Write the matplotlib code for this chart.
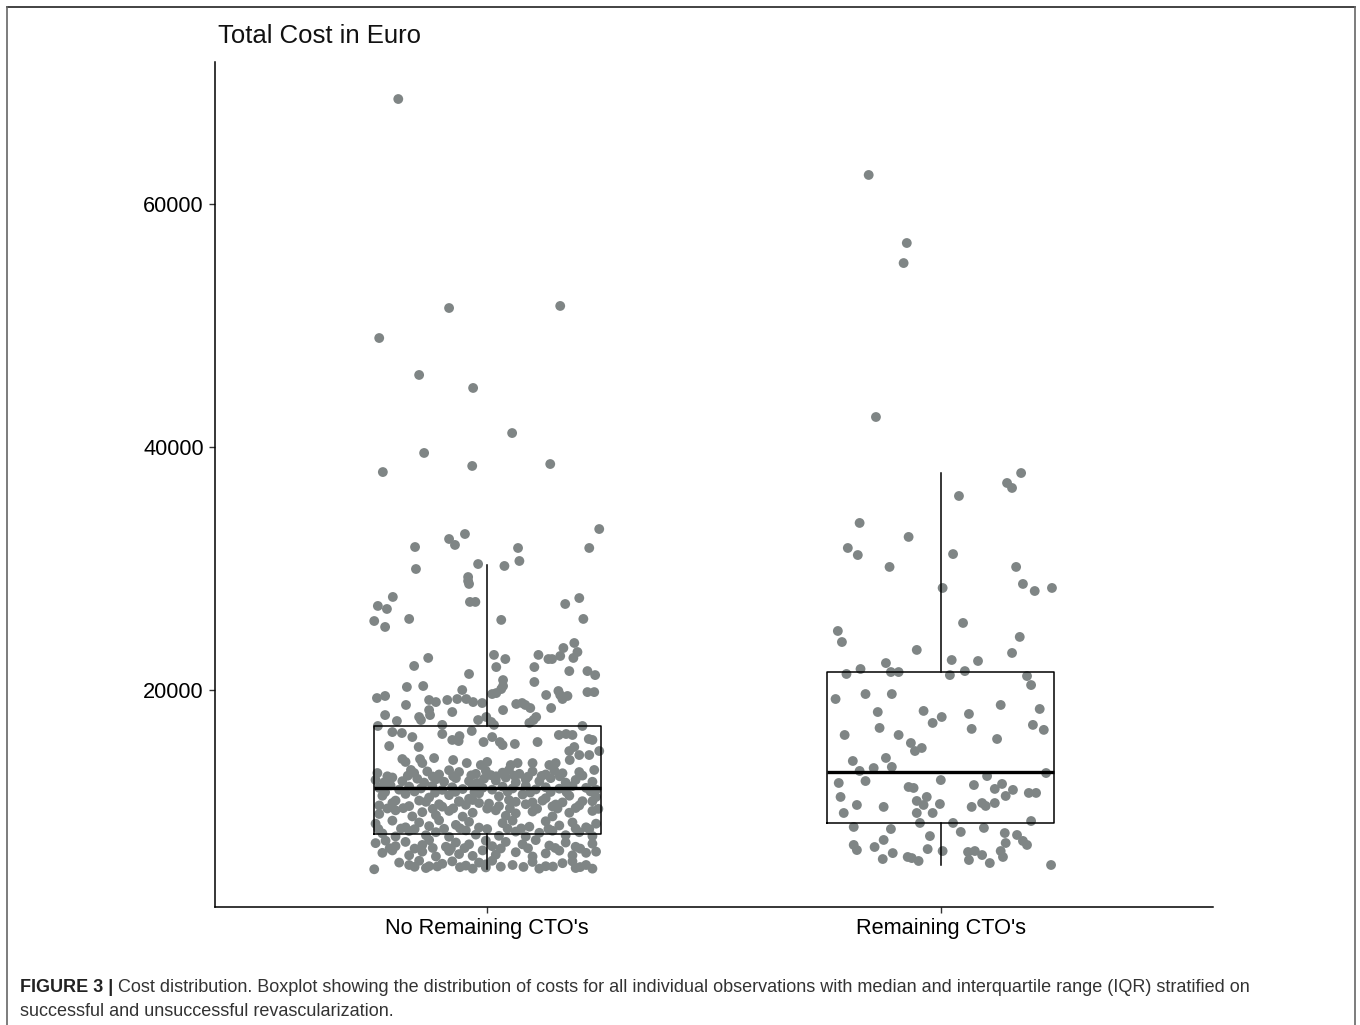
import matplotlib
matplotlib.use("Agg")
import matplotlib.pyplot as plt
import numpy as np

# ---------------- data ----------------
categories = ["No Remaining CTO's", "Remaining CTO's"]
y_ticks = [20000, 40000, 60000]
y_tick_labels = ["20000", "40000", "60000"]

# box statistics
box_q1 = [8150, 9060]
box_median = [11900, 13250]
box_q3 = [17040, 21480]
whisker_lo = [5250, 5600]
whisker_hi = [30250, 37860]

# group 1: No Remaining CTO's (cost in Euro, horizontal jitter)
no_cto_cost = [
    68640, 51440, 51610, 48970, 45930, 44860, 41150, 39510, 37940, 38440, 38600,
    33250, 32840, 32430, 31940, 31770, 31690, 31690,
    30620, 30370, 30210, 29960, 29300, 28970, 28730, 27660, 26920, 26670, 27250, 27250,
    27080, 27570, 25680, 25190, 25850, 25770, 25850, 23870, 23460, 23130, 22640, 22890,
    22550, 22890, 22550, 22550, 22800, 22640,
    21980, 21890, 21890, 21560, 21560, 21230, 21320, 20820, 20660, 20250, 20330, 20330,
    20080, 19750, 19670, 20000, 19920, 19830, 19830, 19340, 19510, 19590, 19590, 19510,
    19260, 19180, 19010, 19180, 19260, 19260, 19010, 18930, 18770, 18850, 18930, 18770,
    18520, 18350, 18190, 18350, 18520, 17940, 17780, 17940, 17780, 17530, 17290, 17780,
    17370, 17130, 17450, 17530, 17530, 17040, 17130, 17040,
    16540, 16460, 16130, 16380, 15890, 15800, 16210, 16630, 15720, 16130, 15720, 15470,
    15560, 15720, 16300, 16380, 16300, 15970, 15890, 15390, 15310, 14980, 15310, 14980,
    14650, 14650, 14320, 14080, 14320, 13990, 14400, 14240, 13990, 13830, 14080, 13830,
    13990, 13990, 13830, 13990, 14240,
    13170, 13420, 13170, 13300, 13050, 13400, 13250, 13100, 13350, 13000, 13200, 13420,
    13100, 13300, 13050, 13380, 13150, 13250, 13420,
    12900, 12950, 12880, 12920, 12980, 12900, 12950, 12870, 12930, 12900, 12960,
    12600, 12400, 12800, 12500, 12700, 12380, 12650, 12450, 12750, 12500, 12350, 12700,
    12550, 12800, 12400, 12650, 12500, 12750, 12380, 12600, 12450,
    11950, 12150, 11800, 12050, 11900, 12100, 11780, 12000, 11850, 12150, 11950, 11800,
    12050, 11900, 12120, 11820, 12000, 11880, 12100, 11950, 11800,
    11600, 11650, 11550, 11620, 11580, 11640, 11560, 11610, 11590, 11650,
    11300, 10700, 11450, 10900, 11150, 10600, 11350, 10800, 11050, 11500, 10650, 11250,
    10950, 11400, 10750, 11100, 10580, 11300, 10850, 11200,
    10500, 10900, 10450, 10800, 10400, 10850, 10550, 10950, 10700, 10450, 10800, 10600,
    10900, 10420, 10750, 10500, 10850,
    10250, 10280, 10220, 10260, 10240, 10270, 10230, 10250, 10290, 10220,
    9800, 10100, 9600, 9950, 9700, 10050, 9580, 9900, 10100, 9650, 9850, 10000, 9600,
    9900, 10050,
    9000, 9250, 8700, 9100, 8800, 9280, 8900, 9150, 8680, 9050, 9250, 8750, 9200, 8850,
    9100, 8700, 9000,
    8570, 8600, 8550, 8580, 8620, 8560, 8590, 8610, 8570, 8600, 8550,
    8200, 7950, 8400, 8050, 8300, 7920, 8450, 8100, 8000, 8350, 7950, 8250, 8420, 8050,
    8300, 7980,
    7400, 7600, 7150, 7500, 7250, 7650, 7100, 7450, 7300, 7600, 7150, 7500, 7300, 7650,
    7200, 7450, 7100, 7350,
    6980, 6950, 7000, 6970, 6990, 6960, 6980, 7000, 6950,
    6600, 6800, 6400, 6700, 6300, 6750, 6500, 6350, 6800, 6450, 6650, 6300, 6550, 6780,
    6400, 6600, 6700,
    5800, 5600, 5950, 5500, 5700, 5900, 5550, 5800, 5650, 5950, 5600, 5850, 5500, 5750,
    5900, 5600,
    5450, 5480, 5420, 5460, 5440, 5470, 5430,
    5250, 5350, 5300, 5400, 5300, 5350, 5300,
]
no_cto_jitter = [
    -0.196, -0.084, 0.161, -0.238, -0.150, -0.031, 0.055, -0.139, -0.230, -0.033, 0.139,
    0.247, -0.049, -0.084, -0.071, -0.159, 0.068, 0.225,
    0.071, -0.020, 0.038, -0.157, -0.042, -0.042, -0.040, -0.208, -0.241, -0.221, -0.038, -0.026,
    0.172, 0.203, -0.249, -0.225, -0.172, 0.031, 0.212, 0.192, 0.168, 0.199, -0.130, 0.015,
    0.040, 0.113, 0.135, 0.143, 0.161, 0.190,
    -0.161, 0.020, 0.104, 0.181, 0.221, 0.238, -0.040, 0.035, 0.104, -0.177, -0.141, 0.035,
    0.031, 0.020, 0.011, -0.055, 0.157, 0.221, 0.236, -0.243, -0.225, 0.130, 0.161, 0.177,
    0.166, -0.128, -0.113, -0.088, -0.066, -0.046, -0.031, -0.011, -0.179, 0.064, 0.077, 0.084,
    0.141, -0.128, -0.077, 0.035, 0.095, -0.225, -0.150, -0.126, 0.108, 0.102, 0.093, -0.002,
    0.009, 0.015, -0.199, -0.146, -0.020, -0.241, -0.099, 0.210,
    -0.209, -0.188, -0.165, -0.099, -0.077, -0.063, -0.061, -0.034, -0.008, 0.011, 0.028, 0.034,
    0.061, 0.111, 0.158, 0.174, 0.188, 0.224, 0.232, -0.216, -0.151, 0.181, 0.192, 0.247,
    0.203, 0.225, -0.187, -0.180, -0.148, -0.143, -0.117, -0.075, -0.045, -0.014, 0.000, 0.052,
    0.067, 0.100, 0.137, 0.151, 0.182,
    -0.242, -0.168, -0.161, -0.132, -0.106, -0.084, -0.062, -0.025, -0.003, 0.008, 0.034, 0.048,
    0.071, 0.100, 0.129, 0.148, 0.166, 0.203, 0.236,
    -0.220, -0.175, -0.120, -0.075, -0.035, 0.020, 0.060, 0.090, 0.120, 0.160, 0.210,
    -0.246, -0.227, -0.209, -0.187, -0.154, -0.139, -0.113, -0.095, -0.069, -0.040, -0.022, -0.007,
    0.019, 0.041, 0.063, 0.085, 0.115, 0.140, 0.173, 0.195, 0.232,
    -0.238, -0.213, -0.194, -0.172, -0.146, -0.121, -0.099, -0.077, -0.054, -0.032, -0.010, 0.011,
    0.034, 0.056, 0.085, 0.107, 0.129, 0.159, 0.188, 0.218, 0.240,
    -0.225, -0.160, -0.115, -0.070, -0.028, 0.045, 0.095, 0.140, 0.175, 0.228,
    -0.231, -0.209, -0.180, -0.150, -0.128, -0.106, -0.084, -0.062, -0.040, -0.018, 0.004, 0.026,
    0.048, 0.078, 0.100, 0.129, 0.151, 0.181, 0.210, 0.240,
    -0.238, -0.202, -0.172, -0.135, -0.099, -0.062, -0.047, -0.032, -0.018, 0.026, 0.063, 0.085,
    0.122, 0.144, 0.166, 0.203, 0.232,
    -0.220, -0.185, -0.120, -0.075, 0.000, 0.050, 0.110, 0.155, 0.195, 0.245,
    -0.238, -0.202, -0.165, -0.143, -0.113, -0.084, -0.054, -0.032, 0.019, 0.041, 0.063, 0.100, 0.144,
    0.181, 0.232,
    -0.246, -0.209, -0.180, -0.150, -0.128, -0.106, -0.069, -0.040, -0.018, 0.034, 0.056, 0.093, 0.129, 0.159,
    0.188, 0.218, 0.240,
    -0.240, -0.190, -0.160, -0.095, -0.060, 0.000, 0.045, 0.075, 0.135, 0.195, 0.225,
    -0.231, -0.202, -0.172, -0.135, -0.113, -0.084, -0.047, -0.025, 0.026, 0.063, 0.085, 0.115, 0.144, 0.173,
    0.203, 0.232,
    -0.246, -0.224, -0.202, -0.180, -0.143, -0.128, -0.091, -0.069, -0.040, -0.003, 0.011, 0.041, 0.078, 0.107,
    0.137, 0.173, 0.195, 0.232,
    -0.215, -0.160, -0.120, -0.080, -0.050, 0.030, 0.090, 0.150, 0.205,
    -0.231, -0.209, -0.172, -0.143, -0.113, -0.084, -0.062, -0.032, -0.010, 0.019, 0.063, 0.100, 0.129, 0.159,
    0.188, 0.218, 0.240,
    -0.194, -0.172, -0.150, -0.128, -0.099, -0.077, -0.047, -0.018, -0.003, 0.011, 0.056, 0.100, 0.129, 0.166,
    0.188, 0.218,
    -0.160, -0.110, -0.060, 0.030, 0.080, 0.145, 0.205,
    -0.249, -0.135, -0.032, -0.003, 0.115, 0.195, 0.232,
]

# group 2: Remaining CTO's
cto_cost = [
    62390, 56790, 55140, 42470, 37860, 37040, 36630, 35970, 33750, 32600, 31690, 31110,
    31190, 30130, 30130, 28730, 28150, 28400, 28400, 25520, 24860, 23950, 24370, 23300,
    23050, 22470, 22390, 22220, 21730, 21480, 21480, 21560, 21320, 21230, 21150,
    20410, 19260, 19670, 19670, 18770, 18440, 18190, 18280, 18030, 17780, 17290, 16880,
    16800, 17130, 16720, 16300, 16300, 15970, 15640, 15230, 14980, 14410, 14160, 13670,
    13580, 13340, 13170, 12920, 12350, 12510, 12590, 12020, 11940, 12180, 12270, 11860,
    11780, 11530, 11530, 11200, 11280, 11200, 10870, 10540, 10380, 10540, 10620, 10700,
    10460, 10700, 10380, 9880, 9880, 9880, 9220, 9060, 9060, 8730, 8560, 8650, 8320,
    8230, 7980, 8070, 7660, 7410, 7580, 7250, 7250, 7080, 6830, 6910, 6580, 6750, 6670,
    6750, 6420, 6750, 6260, 6260, 6170, 5930, 6090, 6010, 5760, 5600,
]
cto_jitter = [
    -0.159, -0.075, -0.082, -0.143, 0.177, 0.146, 0.157, 0.040, -0.179, -0.071, -0.205, -0.183,
    0.027, -0.113, 0.166, 0.181, 0.207, 0.245, 0.004, 0.049, -0.227, -0.218, 0.174, -0.053,
    0.157, 0.024, 0.082, -0.121, -0.177, -0.110, -0.093, 0.053, -0.208, 0.020, 0.190,
    0.199, -0.232, -0.166, -0.108, 0.132, 0.218, -0.139, -0.038, 0.062, 0.002, -0.018, -0.135,
    0.068, 0.203, 0.227, -0.212, -0.093, 0.124, -0.066, -0.042, -0.057, -0.121, -0.194, -0.108,
    -0.148, -0.179, 0.232, 0.102, -0.225, -0.166, 0.000, -0.071, -0.060, 0.073, 0.135, 0.119,
    0.159, 0.194, 0.210, -0.221, 0.143, -0.031, -0.053, -0.185, -0.126, -0.038, -0.002, 0.091,
    0.099, 0.119, 0.068, -0.214, -0.053, -0.018, 0.199, -0.046, 0.027, -0.192, -0.110, 0.095, 0.044,
    0.141, -0.024, 0.168, -0.126, 0.143, 0.181, 0.190, -0.192, -0.146, -0.185, -0.029, -0.106, 0.004, 0.060,
    0.075, 0.091, 0.132, 0.137, -0.073, -0.064, -0.049, -0.128, 0.062, 0.108, 0.243,
]

title_text = "Total Cost in Euro"
caption_bold = "FIGURE 3 |"
caption_line1 = (" Cost distribution. Boxplot showing the distribution of costs for all individual "
                 "observations with median and interquartile range (IQR) stratified on")
caption_line2 = "successful and unsuccessful revascularization."

# ---------------- figure ----------------
W, H = 1360, 1025
fig = plt.figure(figsize=(W / 100, H / 100), dpi=100)
plt.rcParams['font.family'] = ['Liberation Sans', 'DejaVu Sans']

ax = fig.add_axes([215 / W, 1 - 907 / H, (1213 - 215) / W, (907 - 62) / H])

point_color = '#7f8585'
positions = np.arange(1, len(categories) + 1)
ax.scatter(positions[0] + np.array(no_cto_jitter), no_cto_cost, s=50, color=point_color,
           edgecolors='none', zorder=2)
ax.scatter(positions[1] + np.array(cto_jitter), cto_cost, s=50, color=point_color,
           edgecolors='none', zorder=2)

stats = []
for i in range(len(categories)):
    stats.append(dict(med=box_median[i], q1=box_q1[i], q3=box_q3[i],
                      whislo=whisker_lo[i], whishi=whisker_hi[i], fliers=[]))
ax.bxp(stats, positions=positions, widths=0.5, showcaps=False, showfliers=False,
       patch_artist=False, manage_ticks=False,
       boxprops=dict(color='black', linewidth=1.1),
       whiskerprops=dict(color='black', linewidth=1.1),
       medianprops=dict(color='black', linewidth=2.4, solid_capstyle='butt'),
       zorder=3)

ax.set_xlim(0.4, 2.6)
ax.set_ylim(2143, 71687)
ax.set_xticks(positions)
ax.set_xticklabels(categories, fontsize=15.7, color='black')
ax.set_yticks(y_ticks)
ax.set_yticklabels(y_tick_labels, fontsize=15.7, color='black')
for s in ['top', 'right']:
    ax.spines[s].set_visible(False)
for s in ['left', 'bottom']:
    ax.spines[s].set_linewidth(1.1)
    ax.spines[s].set_color('black')
ax.tick_params(axis='both', length=4, width=1.0, color='#333333', pad=4)

fig.text(218 / W, 1 - 36 / H, title_text, fontsize=18.5, ha='left', va='center', color='#111111')

# frame
frame_color = '#666666'
fig.add_artist(plt.Line2D([7 / W, 1355 / W], [1 - 7 / H, 1 - 7 / H], color='#222222', lw=1.2,
                          transform=fig.transFigure))
fig.add_artist(plt.Line2D([7 / W, 7 / W], [1 - 7 / H, 0], color=frame_color, lw=1.2,
                          transform=fig.transFigure))
fig.add_artist(plt.Line2D([1355 / W, 1355 / W], [1 - 7 / H, 0], color=frame_color, lw=1.2,
                          transform=fig.transFigure))

# caption
cap_size = 13.0
tb = fig.text(20 / W, 1 - 988 / H, caption_bold, fontsize=cap_size, fontweight='bold',
              ha='left', va='center', color='#222222')
fig.canvas.draw()
bb = tb.get_window_extent(renderer=fig.canvas.get_renderer())
fig.text(bb.x1 / W, 1 - 988 / H, caption_line1, fontsize=cap_size, ha='left', va='center',
         color='#333333')
fig.text(20 / W, 1 - 1011 / H, caption_line2, fontsize=cap_size, ha='left', va='center',
         color='#333333')

fig.savefig("out.png", dpi=100)
